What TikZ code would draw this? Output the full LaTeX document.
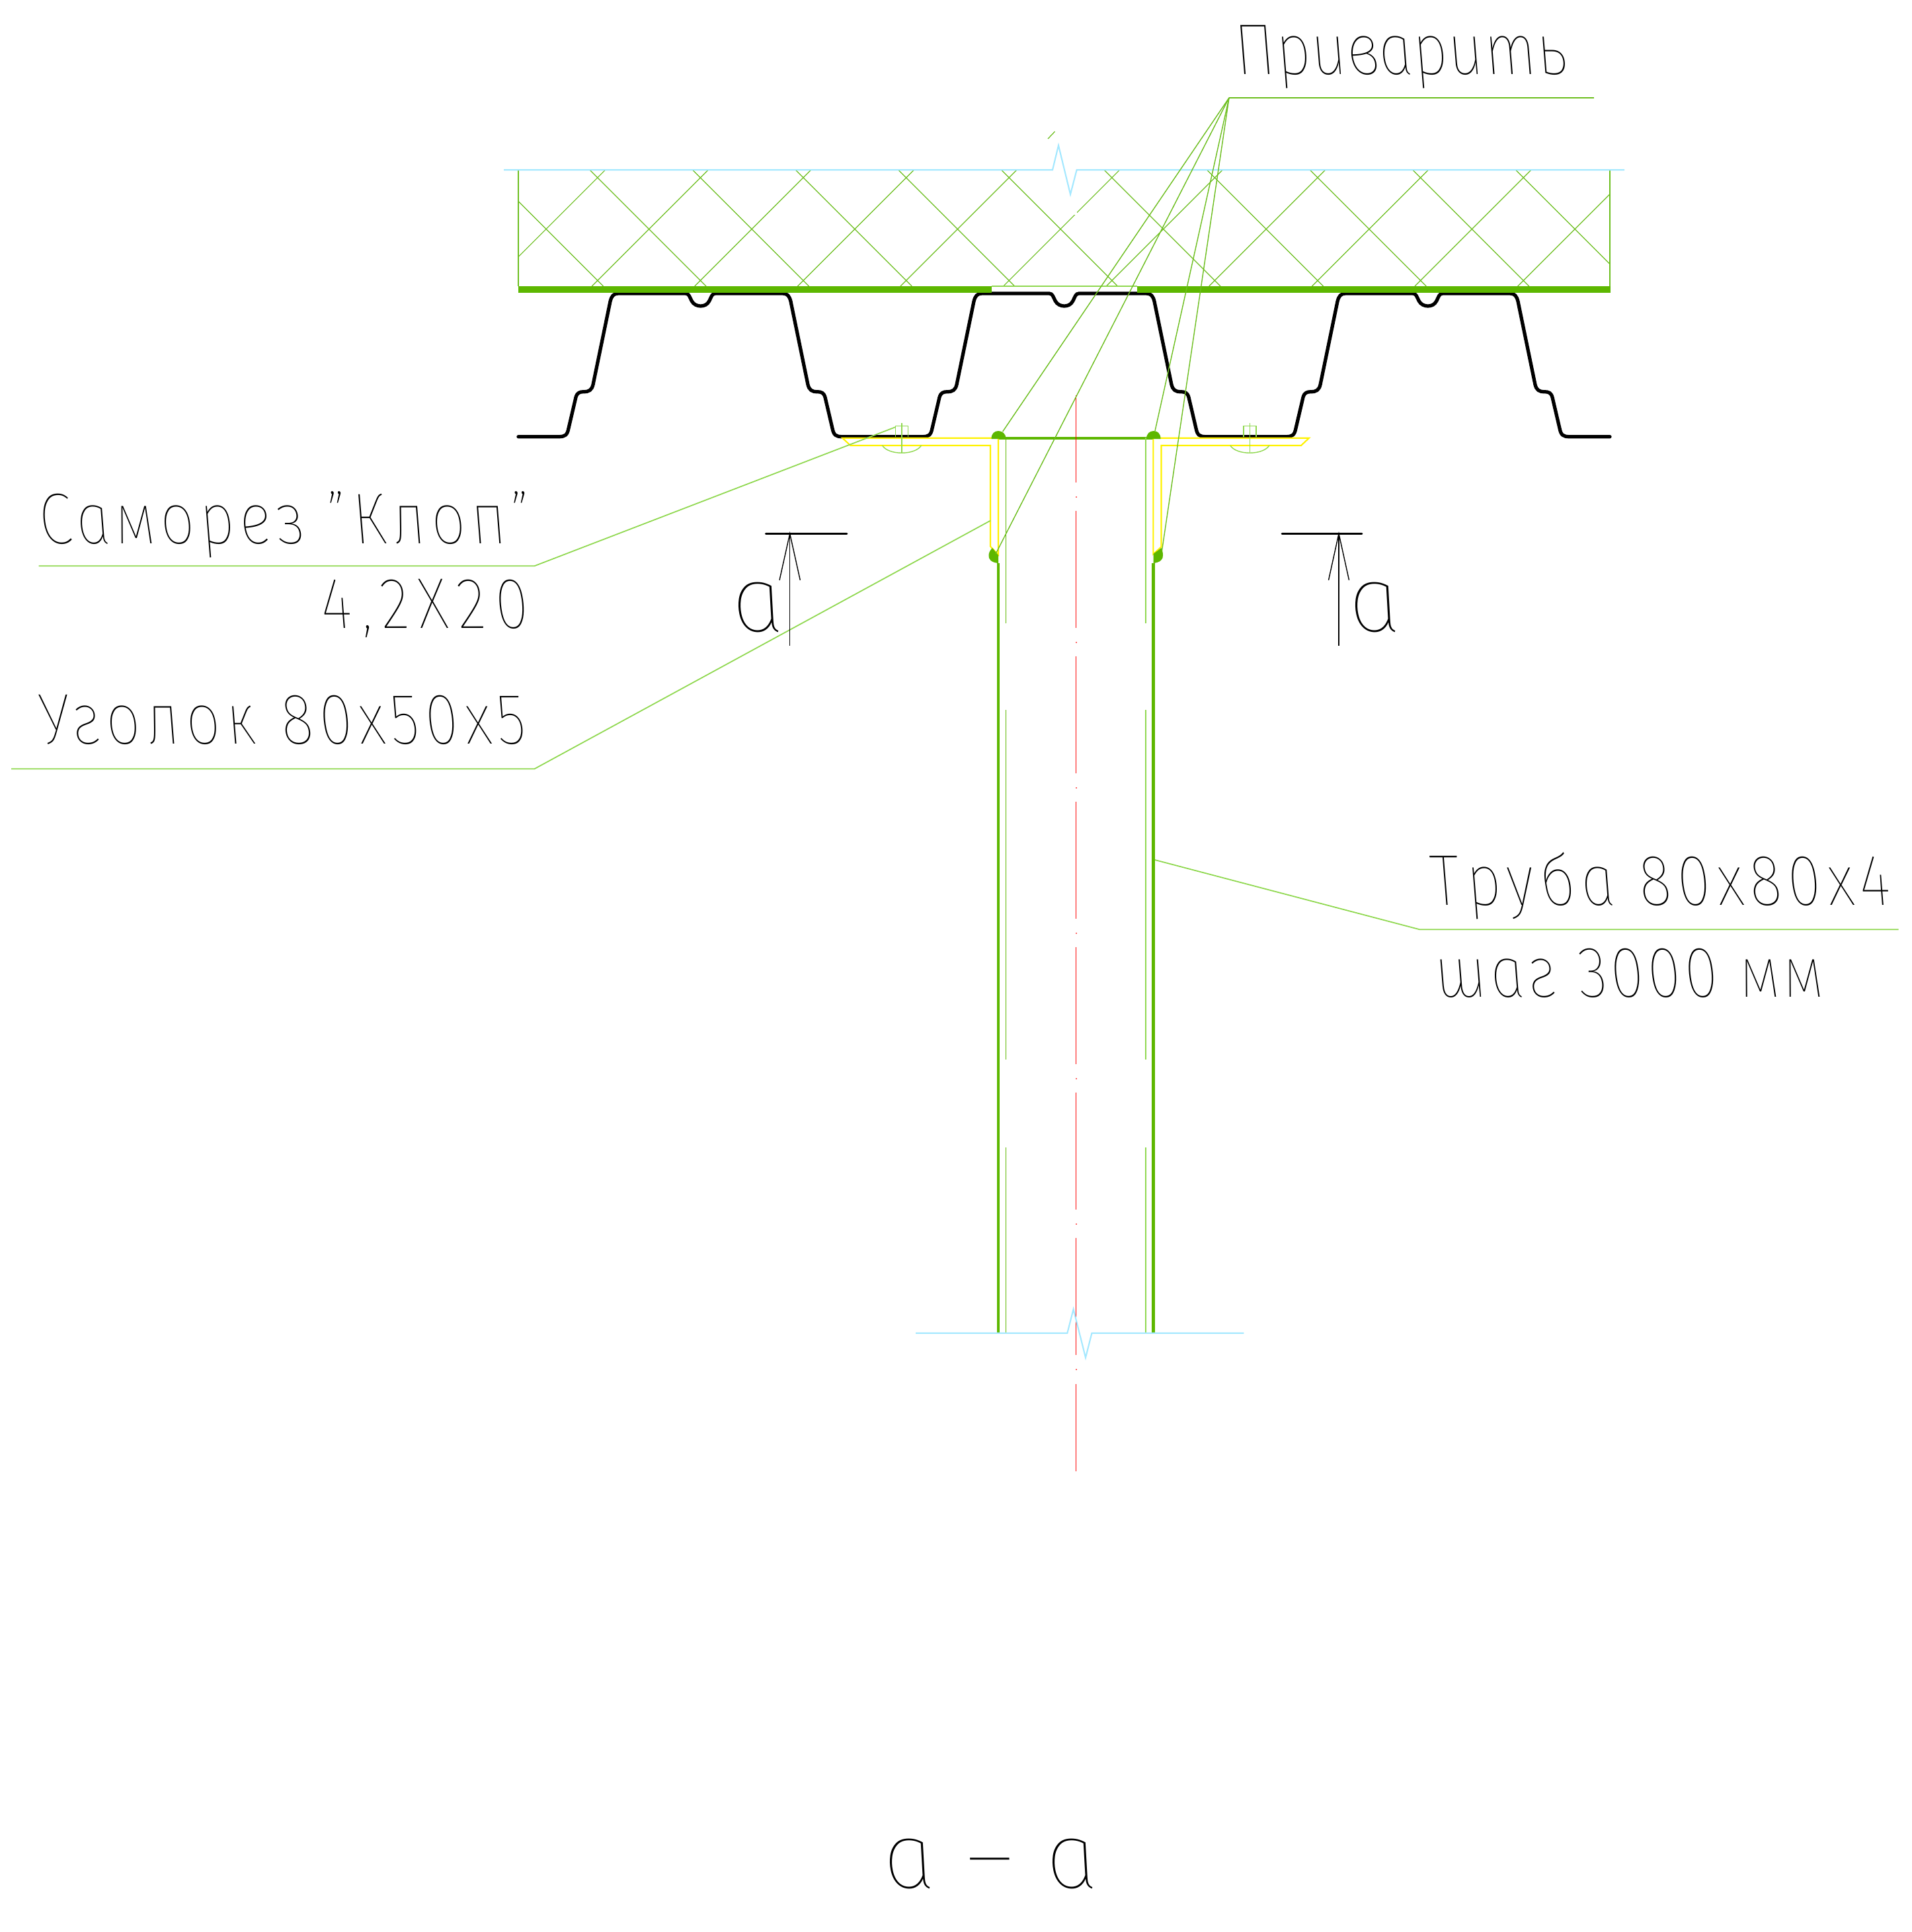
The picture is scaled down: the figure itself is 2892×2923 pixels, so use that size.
\documentclass[tikz,border=0pt]{standalone}
\usepackage{fontspec}
\setmainfont{Fira Sans}[UprightFont=* Thin Italic, FakeSlant=-0.2, FakeStretch=0.85]
\usepackage{tikz}

\definecolor{panelgreen}{HTML}{5DB700}
\definecolor{thingreen}{HTML}{6CBE1E}
\definecolor{leadgreen}{HTML}{8FD84F}
\definecolor{breakblue}{HTML}{A4E8FF}

\tikzset{
	hatchline/.style={thingreen, line width=.35pt},
	profile/.style={black, line width=1.5pt, line cap=round},
	wall/.style={panelgreen, line width=1.2pt},
	angleline/.style={yellow, line width=.6pt},
	breakline/.style={breakblue, line width=.6pt},
	axisline/.style={red, line width=.4pt},
	leader/.style={thingreen, line width=.4pt},
	shelf/.style={leadgreen, line width=.5pt},
	screw/.style={leadgreen, line width=.4pt},
	weld/.style={fill=panelgreen, draw=none},
	secmark/.style={black, line width=.4pt},
	cutline/.style={black, line width=.8pt, line cap=round},
	labeltext/.style={font=\fontsize{31}{31}\selectfont\addfontfeature{LetterSpace=#1}, inner sep=0pt},
	bigtext/.style={font=\fontsize{40}{40}\selectfont\addfontfeature{FakeStretch=1.0}, inner sep=0pt},
}

\begin{document}
\begin{tikzpicture}[x=0.01cm, y=-0.01cm]
	\useasboundingbox[fill=white] (0,0) rectangle (2892,2923);

	% insulation panel
	\begin{scope}
		\clip (784,257) rectangle (2435,433);
		\foreach \k in {-1,...,10} {
			\draw[hatchline] ({892+155.6*\k},257) -- ({892+155.6*\k+176},433);
		}
		\foreach \k in {0,...,11} {
			\draw[hatchline] ({915.6+155.6*\k},257) -- ({915.6+155.6*\k-176},433);
		}
	\end{scope}
	\draw[hatchline] (784,257) -- (784,433);
	\draw[hatchline] (2435,257) -- (2435,433);
	\draw[white, line width=1pt] (1627,317) -- (1627,325);
	\draw[leadgreen, line width=.5pt] (1500,433) -- (1720,433);
	\draw[breakline] (762,257) -- (1592,257) -- (1601,220) -- (1619,294) -- (1628.6,257) -- (2457,257);
	\draw[hatchline] (1585,210) -- (1595.5,199);

	% sheet profile
	\foreach \sx in {787,1337,1887} {
		\draw[profile, shift={(\sx,0)}] (-3,660.7) -- (58,660.7)
			.. controls (68,660.7) and (71,658) .. (73,648) -- (84,601)
			.. controls (86,594) and (90,592.7) .. (96,592.7)
			.. controls (104,592.7) and (108,590) .. (110,582) -- (136,456)
			.. controls (138,448) and (141,444) .. (148,444) -- (250,444)
			.. controls (255,444) and (256,449) .. (259,455)
			.. controls (262,461) and (268,463) .. (272.7,463)
			.. controls (278,463) and (283,461) .. (286,455)
			.. controls (289,449) and (290,444) .. (295,444) -- (397,444)
			.. controls (404,444) and (407,448) .. (409,456) -- (435,582)
			.. controls (437,590) and (441,592.7) .. (449,592.7)
			.. controls (455,592.7) and (459,594) .. (461,601) -- (472,648)
			.. controls (474,658) and (477,660.7) .. (487,660.7) -- (548,660.7);
	}
	\fill[panelgreen] (784,432.5) rectangle (1500,443);
	\fill[panelgreen] (1720,432.5) rectangle (2436,443);

	% tube
	\draw[wall] (1510,852) -- (1510,2017);
	\draw[wall] (1744.5,852) -- (1744.5,2017);
	\draw[wall] (1510,662.7) -- (1744.5,662.7);
	\foreach \ya/\yb in {662/943,1074/1603,1736/2017} {
		\draw[panelgreen, line width=.35pt] (1521.5,\ya) -- (1521.5,\yb);
		\draw[leadgreen, line width=.5pt] (1733,\ya) -- (1733,\yb);
	}

	% angles
	\draw[angleline] (1274.2,662.7) -- (1510,662.7) -- (1510,839.3) -- (1498,826.7) -- (1498,674) -- (1286.4,674) -- cycle;
	\draw[angleline] (1980,662.7) -- (1968,674) -- (1756.5,674) -- (1756.5,827.3) -- (1744.4,838.3) -- (1744.4,662.7) -- cycle;

	% welds
	\fill[weld] (1499.5,664) .. controls (1499.5,656) and (1504,652) .. (1510,652) .. controls (1516,652) and (1521.5,656) .. (1521.5,664) -- cycle;
	\fill[weld] (1734,664) .. controls (1734,656) and (1739,652) .. (1745,652) .. controls (1751,652) and (1755.5,656) .. (1755.5,664) -- cycle;
	\fill[weld] (1501,829) -- (1510,840) -- (1510,852) .. controls (1499,851) and (1495,846) .. (1495.5,840) .. controls (1495.5,836) and (1498,832) .. (1501,829) -- cycle;
	\fill[weld] (1756.6,829) -- (1744.5,838) -- (1744.5,852) .. controls (1755,851) and (1759.5,846) .. (1759,840) .. controls (1759,836) and (1758,832) .. (1756.6,829) -- cycle;

	% screws
	\foreach \cx in {1364,1890.3} {
		\draw[screw] (\cx-9.5,660.7) -- (\cx-9.5,644.7) -- (\cx+9.5,644.7) -- (\cx+9.5,660.7);
		\draw[screw] (\cx,640) -- (\cx,685.7);
		\draw[screw] (\cx-29.5,674) .. controls (\cx-20,689) and (\cx+20,689) .. (\cx+29.5,674);
	}

	% axis
	\draw[axisline] (1627.5,598) -- (1627.5,729.5);
	\foreach \k in {0,...,5} {
		\draw[axisline] (1627.5,{772.7+220*\k}) -- (1627.5,{950+220*\k});
	}
	\foreach \k in {0,...,6} {
		\fill[red!60] (1626.5,{751+220*\k}) rectangle (1628.5,{753+220*\k});
	}
	\draw[axisline] (1627.5,2094.3) -- (1627.5,2226);

	% lower break line
	\draw[breakline] (1385,2017) -- (1614.3,2017) -- (1623.6,1980.7) -- (1642,2054) -- (1651.4,2017) -- (1881.4,2017);

	% leaders
	\coordinate (weldfork) at (1859,148);
	\coordinate (weldshelf) at (2410.5,148);
	\coordinate (weldtl) at (1516.6,653);
	\coordinate (weldbl) at (1506,838);
	\coordinate (weldtr) at (1747,652);
	\coordinate (weldbr) at (1757.5,833);
	\draw[leader] (weldfork) -- (weldshelf);
	\draw[leader] (weldfork) -- (weldtl);
	\draw[leader] (weldfork) -- (weldbl);
	\draw[leader] (weldfork) -- (weldtr);
	\draw[leader] (weldfork) -- (weldbr);

	\coordinate (screwshelfa) at (58.6,856.3);
	\coordinate (screwshelfb) at (808.3,856.3);
	\coordinate (screwtip) at (1354.7,646);
	\draw[shelf] (screwshelfa) -- (screwshelfb) -- (screwtip);

	\coordinate (angleshelfa) at (17,1163.3);
	\coordinate (angleshelfb) at (808.3,1163.3);
	\coordinate (angletip) at (1498,787.7);
	\draw[shelf] (angleshelfa) -- (angleshelfb) -- (angletip);

	\coordinate (tubetip) at (1747,1301);
	\coordinate (tubeshelfa) at (2147.5,1406.3);
	\coordinate (tubeshelfb) at (2871.7,1406.3);
	\draw[shelf] (tubetip) -- (tubeshelfa) -- (tubeshelfb);

	% section marks
	\coordinate (cutla) at (1158.3,807.3);
	\coordinate (cutlb) at (1281,807.3);
	\coordinate (cutlc) at (1194.7,807.3);
	\coordinate (cutld) at (1194.7,977.3);
	\draw[cutline] (cutla) -- (cutlb);
	\draw[secmark] (cutlc) -- (cutld);
	\draw[secmark] (1179,877.7) -- (cutlc) -- (1210.3,877.7);

	\coordinate (cutra) at (1939,807.3);
	\coordinate (cutrb) at (2060,807.3);
	\coordinate (cutrc) at (2025,807.3);
	\coordinate (cutrd) at (2025,977.3);
	\draw[cutline] (cutra) -- (cutrb);
	\draw[secmark] (cutrc) -- (cutrd);
	\draw[secmark] (2009.5,877.7) -- (cutrc) -- (2040.5,877.7);

	% labels
	\node[labeltext=.8, anchor=base west] (weldlabel) at (1873.7,112.3) {Приварить};
	\node[labeltext=7.4, anchor=base east] (screwlabel) at (811,822.7) {Саморез "Клоп"};
	\node[labeltext=13, anchor=base east] (screwsize) at (806,950.7) {4,2Х20};
	\node[labeltext=8.3, anchor=base east] (anglelabel) at (802,1125) {Уголок 80х50х5};
	\node[labeltext=8.6, anchor=base west] (tubelabel) at (2170,1369.3) {Труба 80х80х4};
	\node[labeltext=5.2, anchor=base west] (tubestep) at (2176,1508.3) {шаг 3000 мм};
	\node[bigtext, anchor=base west] (cutlname) at (1114,955) {а};
	\node[bigtext, anchor=base west] (cutrname) at (2047,955) {а};
	\node[bigtext, anchor=base] (cuttitle) at (1505,2856) {а\hspace{.34em}–\hspace{.34em}а};
\end{tikzpicture}
\end{document}
